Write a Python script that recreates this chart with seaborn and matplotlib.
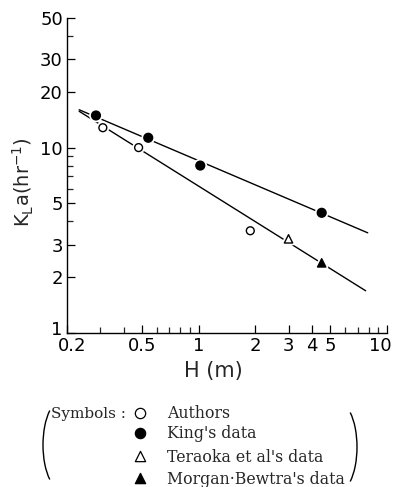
import seaborn as sns
from matplotlib import pyplot as plt
from matplotlib.patches import Arc
from matplotlib.transforms import ScaledTranslation
import matplotlib.patheffects as pe
import matplotlib.ticker as mticker
import pandas as pd

sns.set_theme(style="ticks")
plt.rcParams['font.family'] = ['DejaVu Sans']

# data
authors_h = [0.31, 0.48, 1.88]
authors_k = [12.8, 10.0, 3.56]
king_h = [0.285, 0.54, 1.02, 4.5]
king_k = [14.9, 11.3, 8.0, 4.45]
teraoka_h = [3.0]
teraoka_k = [3.22]
morgan_h = [4.5]
morgan_k = [2.39]
upper_line_h = [0.232, 7.9]
upper_line_k = [16.0, 3.47]
lower_line_h = [0.232, 7.7]
lower_line_k = [15.7, 1.69]

x_ticks = [0.2, 0.5, 1, 2, 3, 4, 5, 10]
x_labels = ['0.2', '0.5', '1', '2', '3', '4', '5', '10']
x_minor = [0.3, 0.4, 0.6, 0.7, 0.8, 0.9, 6, 7, 8, 9]
y_ticks = [1, 2, 3, 5, 10, 20, 30, 50]
y_labels = ['1', '2', '3', '5', '10', '20', '30', '50']
y_minor = [4, 6, 7, 8, 9, 40]

legend_labels = ["Authors", "King's data", "Teraoka et al's data", "Morgan\u00b7Bewtra's data"]

fig = plt.figure(figsize=(3.93, 4.87), dpi=100)
ax = fig.add_axes([67/393, 1-333/487, 320/393, 315/487])

sns.lineplot(x=upper_line_h, y=upper_line_k, color='black', lw=1.0, ax=ax)
sns.lineplot(x=lower_line_h, y=lower_line_k, color='black', lw=1.0, ax=ax)

halo = [pe.Stroke(linewidth=3.5, foreground='white'), pe.Normal()]
series = [
    (authors_h, authors_k, 'o', 'white', 32),
    (king_h, king_k, 'o', 'black', 40),
    (teraoka_h, teraoka_k, '^', 'white', 36),
    (morgan_h, morgan_k, '^', 'black', 36),
]
for h, k, m, fc, s in series:
    d = pd.DataFrame({'H': h, 'K': k})
    pts = sns.scatterplot(data=d, x='H', y='K', marker=m, s=s, color=fc,
                          edgecolor='black', linewidth=1.0, ax=ax, zorder=5)
    pts.collections[-1].set_path_effects(halo)

ax.set_xscale('log')
ax.set_yscale('log')
ax.set_xlim(0.2, 10)
ax.set_ylim(1, 50)
ax.xaxis.set_major_locator(mticker.FixedLocator(x_ticks))
ax.xaxis.set_major_formatter(mticker.FixedFormatter(x_labels))
ax.xaxis.set_minor_locator(mticker.FixedLocator(x_minor))
ax.xaxis.set_minor_formatter(mticker.NullFormatter())
ax.yaxis.set_major_locator(mticker.FixedLocator(y_ticks))
ax.yaxis.set_major_formatter(mticker.FixedFormatter(y_labels))
ax.yaxis.set_minor_locator(mticker.FixedLocator(y_minor))
ax.yaxis.set_minor_formatter(mticker.NullFormatter())
ax.tick_params(which='major', direction='in', length=6, width=0.9, labelsize=13, pad=3, colors='black')
ax.tick_params(which='minor', direction='in', length=4, width=0.9)
for side in ['top', 'right']:
    ax.spines[side].set_visible(False)
for side in ['left', 'bottom']:
    ax.spines[side].set_linewidth(1.0)
    ax.spines[side].set_color('black')
ax.set_xlabel('H (m)', fontsize=15)
ax.xaxis.set_label_coords(0.456, -0.09)
ax.set_ylabel(r'K$_\mathrm{L}$a(hr$^{-1}$)', fontsize=14)
ax.yaxis.set_label_coords(-0.097, 0.48)

# nudge the corner labels like the original typesetting
xt = ax.xaxis.get_major_ticks()
xt[0].label1.set_transform(xt[0].label1.get_transform() + ScaledTranslation(5/100, 0, fig.dpi_scale_trans))
xt[-1].label1.set_transform(xt[-1].label1.get_transform() + ScaledTranslation(-7/100, 0, fig.dpi_scale_trans))
yt = ax.yaxis.get_major_ticks()
yt[0].label1.set_transform(yt[0].label1.get_transform() + ScaledTranslation(0, 5/100, fig.dpi_scale_trans))

# legend block in pixel coordinates
lg = fig.add_axes([0, 0, 1, 1], zorder=-1)
lg.set_xlim(0, 393)
lg.set_ylim(487, 0)
lg.axis('off')
serif = ['DejaVu Serif']
lg.text(51, 414, 'Symbols :', family=serif, fontsize=11, va='center')
rows_y = [413, 433, 456, 478]
marks = [('o', 'white'), ('o', 'black'), ('^', 'white'), ('^', 'black')]
for yy, (m, fc), lab in zip(rows_y, marks, legend_labels):
    lg.scatter([140], [yy], marker=m, s=55, facecolor=fc, edgecolor='black', linewidth=0.9)
    lg.text(167, yy + 1, lab, family=serif, fontsize=11.3, va='center')
lg.add_patch(Arc((62, 445), 38, 90, theta1=109.5, theta2=250.5, color='black', lw=1.0))
lg.add_patch(Arc((338, 447), 38, 90, theta1=-70.5, theta2=70.5, color='black', lw=1.0))

fig.savefig('out.png', dpi=100)
